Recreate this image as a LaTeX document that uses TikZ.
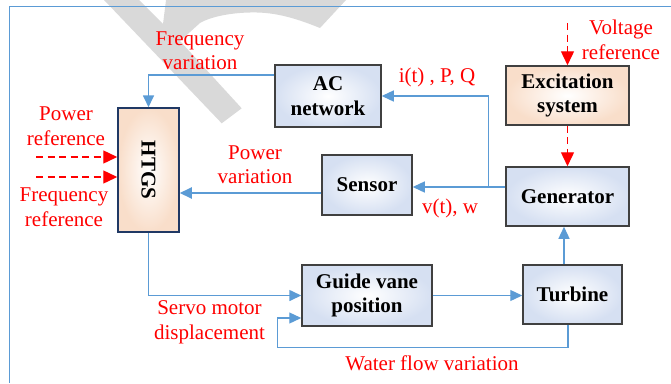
\documentclass[tikz,border=0pt]{standalone}
\usepackage{fontspec}
\setmainfont{Liberation Serif}
\usetikzlibrary{arrows.meta,calc}
\definecolor{lineblue}{RGB}{91,155,213}
\definecolor{boxline}{RGB}{64,64,64}
\definecolor{htgsline}{RGB}{32,56,100}
\definecolor{boxblue}{RGB}{214,224,242}
\definecolor{boxpeach}{RGB}{249,222,202}
\definecolor{wm}{RGB}{217,217,217}
\tikzset{
  box/.style={draw=boxline, line width=1.5pt, inner color=white, outer color=boxblue,
    font={\fontsize{21}{24.5}\selectfont\bfseries}, align=center, inner sep=0pt},
  pbox/.style={box, outer color=boxpeach},
  conn/.style={draw=lineblue, line width=1.3pt, -{Triangle[length=12pt,width=11pt]}},
  dref/.style={draw=red, line width=1.4pt, dash pattern=on 7pt off 4.5pt, -{Triangle[length=14pt,width=13pt]}},
  lbl/.style={text=red, align=center, inner sep=0pt, font={\fontsize{21}{24.5}\selectfont}},
  frame/.style={draw=lineblue, line width=1.5pt},
}
\begin{document}
\begin{tikzpicture}[x=1pt,y=-1pt]
\useasboundingbox (0,0) rectangle (671,383);
% watermark
\fill[wm] (104,0) -- (139,0) -- (163,24) -- (166,0) -- (346,0) -- (320,28)
  .. controls (300,20) and (280,13) .. (257,12.5)
  .. controls (235,12) and (212,16) .. (200,23)
  -- (180,41) -- (241.7,108.3) -- (221.7,123.3) -- cycle;
% frame
\draw[frame] (671,6.7) -- (9.3,6.7) -- (9.3,383);
% boxes
\node[pbox, draw=htgsline, minimum width=61pt, minimum height=124pt] (htgs) at (148.5,170) {\rotatebox{-90}{HTGS}};
\node[box, minimum width=106pt, minimum height=62pt] (ac) at (328,96) {AC\\network};
\node[pbox, minimum width=123pt, minimum height=59pt] (exc) at (567.5,95.5) {Excitation\\system};
\node[box, minimum width=123pt, minimum height=59pt] (gen) at (567.5,196.5) {Generator};
\node[box, minimum width=90pt, minimum height=60pt] (sensor) at (367,185) {Sensor};
\node[box, minimum width=130pt, minimum height=61pt] (guide) at (367,295.5) {Guide vane\\position};
\node[box, minimum width=99pt, minimum height=59pt] (turb) at (572.5,294.5) {Turbine};
% connectors
\draw[conn, line width=1.7pt] ([yshift=21pt]ac.west) -| (htgs.north);
\coordinate (gs) at ([yshift=9.5pt]gen.west);
\coordinate (j) at ($(gs)+(-17,0)$);
\draw[conn] (gs) -- (j) |- (ac.east);
\draw[conn] (j) -- (sensor.east |- j);
\coordinate (sw) at ([yshift=-8pt]sensor.west);
\draw[conn, line width=2pt] (sw) -- (htgs.east |- sw);
\draw[conn, line width=1.6pt] (htgs.south) |- (guide.west);
\draw[conn] (guide.east) -- (turb.west |- guide.east);
\coordinate (tn) at ([xshift=-8.5pt]turb.north);
\draw[conn] (tn) -- (gen.south -| tn);
\coordinate (ts) at ([xshift=-4.5pt]turb.south);
\coordinate (fb) at ($(guide.south west)+(-24,21)$);
\coordinate (gi) at ([yshift=-22.5pt]guide.west);
\draw[conn] (ts) |- (fb) |- (gi);
% red dashed references
\coordinate (vr) at (567.5,23);
\draw[dref] (vr) -- (exc.north);
\draw[dref] (exc.south) -- (gen.north);
\coordinate (pr) at (36,157);
\draw[dref] (pr) -- (htgs.west |- pr);
\coordinate (fr) at (36,177);
\draw[dref] (fr) -- (htgs.west |- fr);
% labels
\node[lbl] (l1) at (200,50.9) {Frequency\\variation};
\node[lbl] (l2) at (66,126.3) {Power\\reference};
\node[lbl] (l3) at (64,207.2) {Frequency\\reference};
\node[lbl] (l4) at (255,164.6) {Power\\variation};
\node[lbl, anchor=base] (l5) at (437,82) {i(t) , P, Q};
\node[lbl, anchor=base] (l6) at (450,213) {v(t), w};
\node[lbl] (l7) at (621,40) {Voltage\\reference};
\node[lbl] (l8) at (209.5,322.3) {Servo motor\\displacement};
\node[lbl, anchor=base] (l9) at (432,370) {Water flow variation};
\end{tikzpicture}
\end{document}
